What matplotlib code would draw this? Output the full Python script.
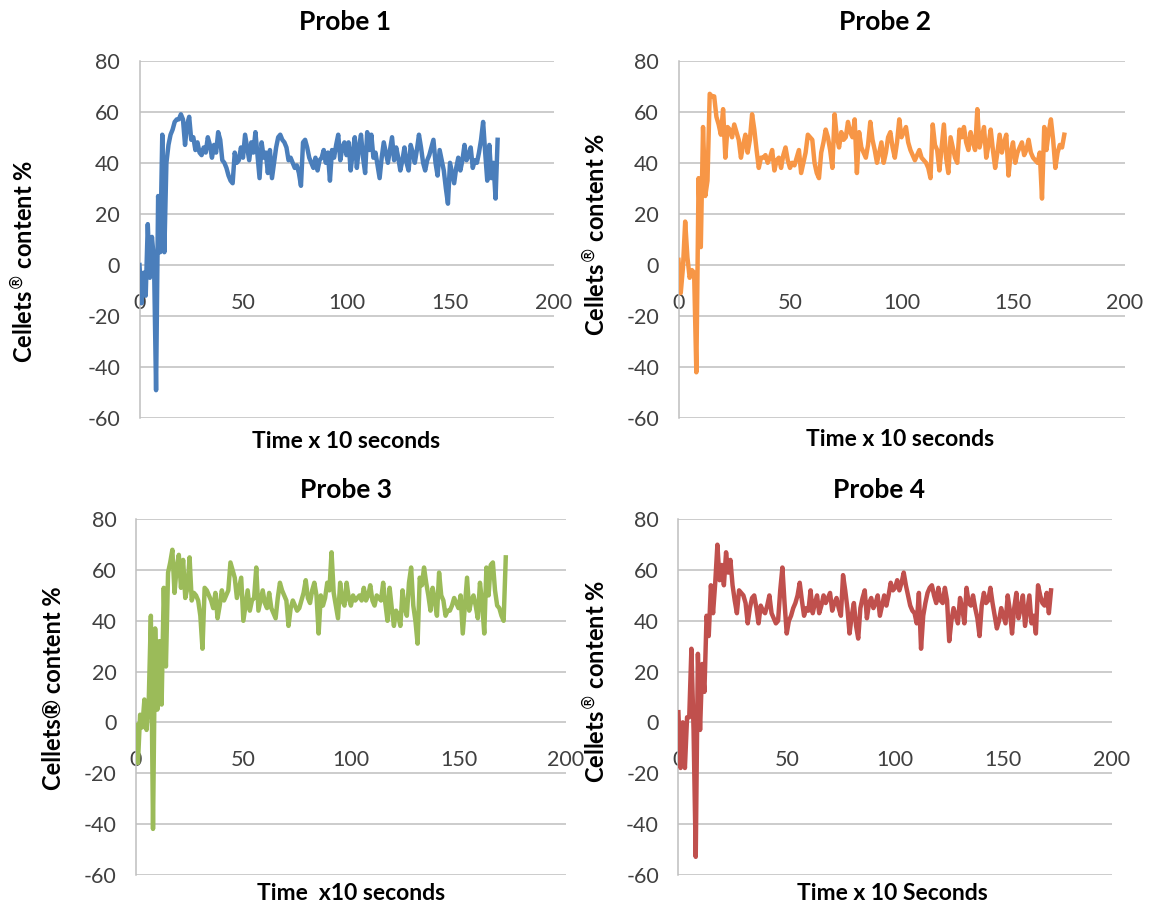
import matplotlib
matplotlib.use("Agg")
import matplotlib.pyplot as plt
import numpy as np

# Cellets content (%) per probe, one sample per 10 s
probe1 = [0, -15, -3, -12, 16, -5, 11, 2, -49, 27, 5, 51, 5, 40, 47, 51, 53, 56, 57, 57,
          59, 57, 47, 55, 58, 49, 50, 45, 48, 44, 43, 46, 44, 50, 47, 42, 47, 44, 52, 49,
          41, 40, 38, 35, 33, 32, 44, 40, 41, 46, 42, 51, 46, 41, 48, 44, 52, 43, 34, 48,
          42, 44, 36, 45, 34, 40, 46, 50, 51, 49, 48, 46, 41, 42, 40, 38, 39, 36, 31, 48,
          49, 46, 42, 40, 38, 42, 37, 41, 42, 45, 40, 44, 33, 45, 42, 47, 51, 41, 46, 48,
          43, 48, 37, 44, 50, 38, 46, 51, 42, 36, 52, 45, 51, 42, 44, 39, 34, 42, 48, 44,
          40, 45, 50, 41, 46, 42, 37, 41, 46, 40, 37, 47, 44, 40, 45, 51, 46, 40, 37, 41,
          43, 46, 49, 40, 35, 45, 41, 37, 30, 24, 40, 36, 32, 38, 42, 37, 41, 47, 41, 43,
          46, 38, 41, 40, 44, 49, 56, 44, 33, 47, 34, 40, 26, 49]
probe2 = [2, -11, -1, 17, 3, -5, -2, -3, -42, 34, 7, 54, 27, 33, 67, 66, 66, 58, 55, 51,
          61, 42, 54, 53, 50, 55, 52, 49, 42, 47, 51, 44, 49, 59, 53, 45, 38, 42, 42, 43,
          40, 42, 45, 37, 41, 42, 38, 43, 46, 41, 38, 40, 39, 42, 45, 36, 40, 44, 51, 50,
          49, 40, 36, 34, 44, 48, 53, 50, 45, 38, 59, 50, 46, 52, 49, 50, 56, 52, 50, 57,
          36, 52, 46, 44, 42, 47, 56, 49, 45, 40, 44, 48, 40, 44, 50, 52, 46, 42, 48, 57,
          50, 52, 54, 48, 45, 43, 41, 43, 45, 42, 41, 40, 38, 34, 55, 47, 45, 37, 46, 55,
          42, 36, 50, 46, 42, 40, 53, 50, 54, 48, 45, 52, 48, 45, 61, 46, 50, 54, 42, 47,
          53, 45, 38, 44, 51, 44, 48, 51, 35, 44, 48, 40, 44, 46, 48, 43, 45, 49, 44, 42,
          41, 40, 44, 26, 54, 45, 52, 57, 49, 38, 44, 47, 46, 51]
probe3 = [-1, -16, 3, -2, 9, -3, 8, 42, -42, 37, 5, 32, 7, 53, 22, 59, 63, 68, 51, 61,
          66, 53, 64, 49, 53, 65, 48, 51, 50, 48, 42, 29, 53, 52, 50, 48, 45, 51, 41, 46,
          52, 48, 50, 52, 63, 60, 57, 49, 53, 57, 40, 46, 52, 44, 48, 49, 61, 44, 48, 52,
          47, 45, 51, 45, 43, 41, 49, 55, 52, 50, 48, 38, 45, 48, 46, 44, 45, 48, 51, 56,
          49, 47, 52, 55, 50, 35, 50, 46, 49, 55, 52, 67, 51, 46, 41, 55, 48, 46, 55, 49,
          46, 50, 48, 49, 50, 48, 53, 48, 50, 54, 48, 46, 50, 49, 48, 55, 47, 40, 53, 45,
          38, 44, 42, 38, 52, 45, 42, 55, 61, 46, 40, 31, 57, 54, 61, 55, 50, 44, 53, 48,
          42, 59, 50, 48, 42, 44, 44, 46, 49, 47, 45, 50, 35, 46, 57, 44, 48, 50, 46, 41,
          55, 47, 35, 61, 50, 62, 63, 52, 46, 45, 42, 40, 65]
probe4 = [4, -18, 0, -18, 2, 2, 29, -3, -53, 27, -3, 23, 12, 42, 34, 54, 43, 55, 70, 56,
          62, 54, 67, 59, 64, 54, 48, 43, 52, 51, 50, 47, 39, 45, 49, 50, 45, 39, 46, 44,
          43, 46, 50, 43, 41, 39, 40, 52, 61, 47, 35, 40, 42, 45, 47, 50, 55, 48, 42, 45,
          44, 52, 43, 47, 50, 43, 46, 50, 47, 49, 51, 44, 47, 49, 45, 42, 58, 52, 45, 35,
          42, 47, 38, 33, 45, 49, 52, 41, 47, 49, 45, 47, 50, 42, 46, 50, 46, 50, 55, 52,
          53, 56, 52, 55, 59, 54, 50, 46, 44, 43, 39, 51, 29, 42, 47, 51, 53, 54, 50, 47,
          53, 48, 47, 53, 48, 32, 40, 45, 42, 39, 49, 45, 39, 53, 47, 46, 50, 45, 41, 34,
          46, 51, 47, 48, 53, 47, 42, 37, 40, 45, 42, 39, 50, 44, 35, 45, 51, 41, 45, 50,
          38, 44, 50, 39, 42, 35, 54, 50, 47, 46, 51, 43, 52]

series = [probe1, probe2, probe3, probe4]
titles = ['Probe 1', 'Probe 2', 'Probe 3', 'Probe 4']
xlabels = ['Time x 10 seconds', 'Time x 10 seconds', 'Time  x10 seconds', 'Time x 10 Seconds']
ylabels = [r'Cellets$^{\circledR}$ content %', r'Cellets$^{\circledR}$ content %',
           'Cellets® content %', r'Cellets$^{\circledR}$ content %']
colors = ['#4A7EBB', '#F79646', '#9BBB59', '#C0504D']
xticks = [0, 50, 100, 150, 200]
yticks = [-60, -40, -20, 0, 20, 40, 60, 80]

W, H = 1155, 909
plt.rcParams['font.family'] = ['Lato', 'DejaVu Sans']
plt.rcParams['mathtext.fontset'] = 'dejavusans'
plt.rcParams['axes.unicode_minus'] = False

fig = plt.figure(figsize=(W / 100, H / 100), dpi=100)

# plot boxes in pixels: x0, x1, y_top, y_bottom
boxes = [(139.5, 553.5, 60.6, 418.3), (678.5, 1124.5, 60.6, 418.3),
         (135.8, 566, 519.3, 874.6), (678.4, 1111.7, 519.3, 874.6)]
title_pos = [(345, 22), (885, 22), (346, 490), (879, 490)]
xlab_pos = [(346, 442), (900, 440), (351, 893), (892, 893)]
ylab_pos = [(24, 262), (596, 235), (53, 688), (596, 682)]

for i in range(4):
    x0, x1, yt, yb = boxes[i]
    ax = fig.add_axes([x0 / W, 1 - yb / H, (x1 - x0) / W, (yb - yt) / H])
    t = np.arange(len(series[i]))
    ax.plot(t, series[i], color=colors[i], lw=3.2, zorder=3, solid_joinstyle='round')
    ax.set_xlim(0, 200)
    ax.set_ylim(-60, 80)
    ax.set_xticks(xticks)
    ax.set_yticks(yticks)
    ax.grid(axis='y', color='#BFBFBF', lw=1.1)
    ax.set_axisbelow(True)
    for s in ['top', 'right']:
        ax.spines[s].set_visible(False)
    ax.spines['left'].set_color('#BFBFBF')
    ax.spines['left'].set_linewidth(1.1)
    ax.spines['bottom'].set_position(('data', 0))
    ax.spines['bottom'].set_visible(False)
    ax.tick_params(axis='x', length=0, pad=20, labelsize=15.5, labelcolor='#404040')
    ax.tick_params(axis='y', length=0, pad=14, labelsize=15.5, labelcolor='#404040')

    fig.text(title_pos[i][0] / W, 1 - title_pos[i][1] / H, titles[i], ha='center', va='center',
             fontsize=19, fontweight='bold')
    fig.text(xlab_pos[i][0] / W, 1 - xlab_pos[i][1] / H, xlabels[i], ha='center', va='center',
             fontsize=16.5, fontweight='bold')
    fig.text(ylab_pos[i][0] / W, 1 - ylab_pos[i][1] / H, ylabels[i], ha='center', va='center',
             fontsize=17, fontweight='bold', rotation=90)

fig.savefig('out.png', dpi=100)
